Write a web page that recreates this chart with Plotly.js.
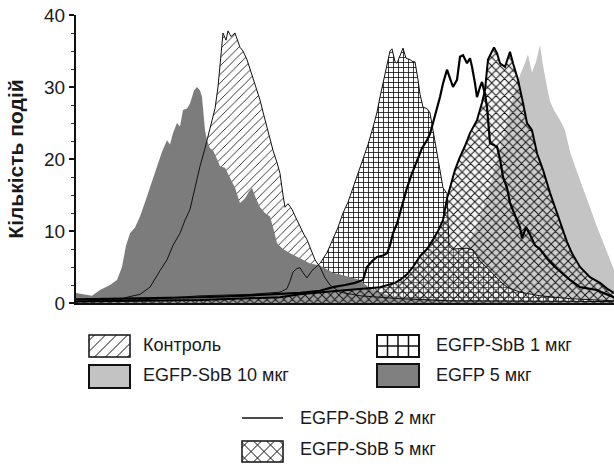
<!DOCTYPE html>
<html>
<head>
<meta charset="utf-8">
<script src="https://cdn.plot.ly/plotly-3.0.1.min.js"></script>
<style>html,body{margin:0;padding:0;background:#fff;}#chart{width:614px;height:466px;}</style>
</head>
<body>
<div id="chart"></div>
<script>
// ---- Data (fluorescence channel vs event count) ----
const seriesNames = ["Контроль", "EGFP-SbB 10 мкг", "EGFP-SbB 1 мкг", "EGFP 5 мкг", "EGFP-SbB 2 мкг", "EGFP-SbB 5 мкг"];

const controlX = [0,24,44,51,64,74,84,91,97,104,109,114,119,124,129,134,139,142,144,147,150,152,155,159,164,167,171,174,177,181,184,188,191,194,197,201,204,207,209,212,216,220,224,228,231,235,239,244,249,254,264,284,324,374,538];
const controlY = [0.2,0.3,0.5,0.8,1.2,2.2,4.5,6,8,9.7,11.5,13,16,19,21.5,24.4,27,30,32.8,37.5,36.5,37.8,37,37.5,35.5,35,33.8,32.5,31.4,29.5,28.2,26,24.4,23,21.2,19.5,18,15,13.3,13.8,13,11.8,10.6,9.5,8.8,7.5,6,5,3.5,2.5,1.5,1,0.6,0.3,0.2];

const egfp5X = [0,9,16,24,34,41,46,50,54,59,64,69,74,81,86,91,94,97,101,104,107,111,114,118,121,124,126,129,131,134,137,141,144,149,154,159,164,169,173,176,180,184,189,194,198,201,207,214,224,234,244,257,269,284,294,309,324,374,538];
const egfp5Y = [1.4,1.2,1.0,1.8,2.5,3.2,5,8,9.7,10.5,12,14,16,19,21,22.6,22,23.6,25,24.5,26.8,27,27.7,29.5,30,29.5,28.6,24,22.6,21.5,21.2,20,19,18.8,17.5,16,13.9,14.5,15.5,16,14.5,13.3,12.5,12,10,8.3,7.5,6.9,6.2,5.5,5.2,4.2,3.8,3.2,2,1.2,0.8,0.4,0.2];

const sbb1X = [0,74,124,174,204,211,214,217,221,224,227,231,236,240,244,251,257,262,267,272,277,282,287,292,297,301,304,308,311,314,316,319,321,324,327,330,334,337,339,342,344,347,351,354,357,359,362,364,367,371,373,376,384,391,397,404,414,424,431,444,464,494,538];
const sbb1Y = [0.2,0.5,1,1.2,1.5,2,3,4.3,4.8,4.9,4.2,3.5,4.5,5,5.5,7,8.8,10.5,12.5,14,16,18,19.9,22,24.4,26.5,28.6,31,32.8,35,35.3,33.5,33.3,34.5,35.4,34,33.8,33.5,33.5,31,29,27.2,27,26.4,24,22.6,20.5,18.9,16,15.2,8,7.5,7.5,7.6,7.4,5.8,4.5,3,2.2,1.5,1,0.6,0.3];

const sbb2X = [0,44,84,124,164,204,224,244,257,269,279,287,291,296,301,307,311,314,317,321,324,328,331,336,341,346,351,354,357,361,364,367,371,374,377,381,384,387,391,394,396,399,401,404,406,409,411,414,417,421,424,427,431,434,438,441,444,446,450,454,459,464,472,479,487,494,504,514,521,529,538];
const sbb2Y = [0.5,0.6,0.7,0.8,1.0,1.2,1.4,1.7,2.2,2.5,2.8,3.2,5,5.8,6.4,6.6,6.9,8,9.7,11,12.5,14.5,16,18,19.9,21.5,22.6,23.5,25,27,28.6,30.5,32.4,31.2,30,31,34.2,34.4,33.3,34,32.8,30.5,28.6,30,30.7,29,27.2,22.2,22,21.7,20,17.5,16,13.9,12.5,11.5,10.5,9,10.5,9.5,8,7.5,6,5,4,3.2,2.2,2,1.8,1.3,0.8];

const sbb5X = [0,124,204,224,254,284,304,319,324,331,337,344,351,357,362,367,371,374,379,384,389,394,401,406,409,412,416,418,421,424,429,432,434,437,442,447,451,456,461,467,474,481,487,491,496,504,514,524,531,538];
const sbb5Y = [0.2,0.4,0.8,1.2,1.6,2,2.2,2.8,3.2,4,5,6.5,7.5,8.8,10,11.5,14.5,16,18.5,20.3,21.8,23.6,25.4,27.8,29.6,33.8,34.9,35.5,34.7,33.3,32.8,34,34.9,33.3,31,27.8,25,24,20.8,18.5,15.3,12.5,10.1,8.5,6.9,5,3.6,2.8,2,1.4];

const sbb10X = [0,224,304,324,344,364,379,389,399,407,414,421,429,436,442,448,452,456,460,464,467,471,474,479,484,489,494,499,504,511,516,521,526,531,538];
const sbb10Y = [0.3,0.4,0.8,1.5,2.5,4,6,8,10,13,16,20,24,28,31,33,34.5,32,33.5,35.8,33,30,28,26.5,25.4,24,21,19,17,14.3,12.5,10.6,8.8,6.9,4.6];

const yTicks = [0, 10, 20, 30, 40];
const yTitle = "Кількість подій";

// ---- Traces ----
const fillBase = {type: "scatter", mode: "lines", fill: "tozeroy", line: {width: 0}, hoverinfo: "skip", showlegend: false};
const traces = [
  Object.assign({}, fillBase, {name: seriesNames[1], x: sbb10X, y: sbb10Y, fillcolor: "#c4c4c4"}),
  Object.assign({}, fillBase, {name: seriesNames[0], x: controlX, y: controlY, fillcolor: "#ffffff",
    fillpattern: {shape: "/", fgcolor: "#111", bgcolor: "#ffffff", size: 6, solidity: 0.14}}),
  Object.assign({}, fillBase, {name: seriesNames[2], x: sbb1X, y: sbb1Y, fillcolor: "#ffffff",
    fillpattern: {shape: "+", fgcolor: "#111", bgcolor: "#ffffff", size: 5, solidity: 0.3}}),
  Object.assign({}, fillBase, {name: seriesNames[3], x: egfp5X, y: egfp5Y, fillcolor: "#7c7c7c"}),
  Object.assign({}, fillBase, {name: seriesNames[5], x: sbb5X, y: sbb5Y, fillcolor: "rgba(225,225,225,0.3)",
    fillpattern: {shape: "x", fgcolor: "#111", bgcolor: "rgba(225,225,225,0.3)", size: 6, solidity: 0.3}}),
  {type: "scatter", mode: "lines", x: controlX, y: controlY, line: {color: "#111", width: 1}, showlegend: false, hoverinfo: "skip"},
  {type: "scatter", mode: "lines", x: sbb1X, y: sbb1Y, line: {color: "#111", width: 1}, showlegend: false, hoverinfo: "skip"},
  {type: "scatter", mode: "lines", x: sbb2X, y: sbb2Y, line: {color: "#000", width: 2.2}, showlegend: false, hoverinfo: "skip"},
  {type: "scatter", mode: "lines", x: sbb5X, y: sbb5Y, line: {color: "#000", width: 2}, showlegend: false, hoverinfo: "skip"}
];

// ---- Custom legend (pixel helpers -> paper coords) ----
const PL = 76, PR = 614, PT = 15, PB = 303;
const fx = p => (p - PL) / (PR - PL);
const fy = p => (PB - p) / (PB - PT);
const pt = (x, y) => fx(x) + "," + fy(y);

function rectShape(x0, y0, x1, y1, fill, lw) {
  return {type: "rect", xref: "paper", yref: "paper", x0: fx(x0), x1: fx(x1), y0: fy(y1), y1: fy(y0),
    fillcolor: fill, line: {color: "#111", width: lw}, layer: "above"};
}
function diagPath(x0, y0, x1, y1, s, dir) {
  const w = x1 - x0, h = y1 - y0;
  let d = "";
  for (let c = -h + s / 2; c < w; c += s) {
    let ax, ay, bx, by;
    if (dir === 1) { ax = x0 + c; ay = y1; bx = x0 + c + h; by = y0; }
    else { ax = x0 + c; ay = y0; bx = x0 + c + h; by = y1; }
    if (ax < x0) { const t = x0 - ax; ax = x0; ay = dir === 1 ? ay - t : ay + t; }
    if (bx > x1) { const t = bx - x1; bx = x1; by = dir === 1 ? by + t : by - t; }
    if (bx <= ax) continue;
    d += "M" + pt(ax, ay) + "L" + pt(bx, by);
  }
  return d;
}
function pathShape(d, lw) {
  return {type: "path", xref: "paper", yref: "paper", path: d, line: {color: "#111", width: lw}, layer: "above"};
}
function gridPath(x0, y0, x1, y1, n) {
  let d = "";
  const s = (x1 - x0) / n;
  for (let i = 1; i < n; i++) d += "M" + pt(x0 + i * s, y0) + "L" + pt(x0 + i * s, y1);
  const ym = (y0 + y1) / 2;
  d += "M" + pt(x0, ym) + "L" + pt(x1, ym);
  return d;
}

const shapes = [
  rectShape(89, 335, 130, 357, "#ffffff", 1.5),
  pathShape(diagPath(89, 335, 130, 357, 11, 1), 1),
  rectShape(89, 365, 130, 388, "#c3c3c3", 2),
  rectShape(377, 335, 419, 357, "#ffffff", 2),
  pathShape(gridPath(377, 335, 419, 357, 4), 1.5),
  rectShape(377, 364, 419, 387, "#808080", 2),
  pathShape("M" + pt(242, 418) + "L" + pt(283, 418), 1.5),
  rectShape(242, 441, 283, 462, "#ffffff", 1.5),
  pathShape(diagPath(242, 441, 283, 462, 13, 1) + diagPath(242, 441, 283, 462, 13, -1), 1)
];

const legFont = {family: "Liberation Sans, Arial, sans-serif", size: 18, color: "#1a1a1a"};
const legItems = [
  [seriesNames[0], 141, 345],
  [seriesNames[1], 141, 375],
  [seriesNames[2], 434, 345],
  [seriesNames[3], 434, 375],
  [seriesNames[4], 298, 418],
  [seriesNames[5], 298, 449]
];
const annotations = legItems.map(([t, x, y]) => ({
  text: t, xref: "paper", yref: "paper", x: fx(x), y: fy(y), xanchor: "left", yanchor: "middle",
  showarrow: false, font: legFont
}));

const layout = {
  width: 614, height: 466,
  margin: {l: 76, r: 0, t: 15, b: 163},
  paper_bgcolor: "#ffffff", plot_bgcolor: "#ffffff",
  showlegend: false,
  xaxis: {range: [0, 538], showgrid: false, zeroline: false, showline: true, linecolor: "#111", linewidth: 2,
    ticks: "", showticklabels: false, fixedrange: true},
  yaxis: {range: [0, 40], tickvals: yTicks, ticktext: yTicks.map(String), showgrid: false, zeroline: false,
    showline: true, linecolor: "#111", linewidth: 2, ticks: "outside", ticklen: 5, tickwidth: 1.5, tickcolor: "#111",
    minor: {dtick: 2.5, ticks: "outside", ticklen: 3, tickwidth: 1, tickcolor: "#333"},
    tickfont: {family: "Liberation Sans, Arial, sans-serif", size: 19, color: "#1a1a1a"},
    title: {text: yTitle, standoff: 15, font: {family: "Liberation Sans, Arial, sans-serif", size: 21, color: "#1a1a1a", weight: "bold"}}},
  shapes: shapes,
  annotations: annotations
};

Plotly.newPlot("chart", traces, layout, {displayModeBar: false, staticPlot: true});
</script>
</body>
</html>
